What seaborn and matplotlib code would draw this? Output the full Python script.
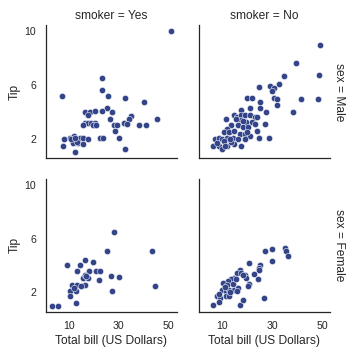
import matplotlib
matplotlib.use("Agg")
import matplotlib.pyplot as plt
import numpy as np
import pandas as pd
import seaborn as sns

# ---- data (total bill, tip) per facet --------------------------------------
male_yes_bill = [50.8, 23.2, 23.2, 7.2, 25.9, 32.7, 40.2, 25.2,
                 16.4, 18.4, 20.5, 23.2, 27.3, 17.8, 34.8, 34.1, 26.6, 45.2,
                 16.4, 17.8, 19.1, 20.5, 15.7, 19.8, 21.1, 32.0, 33.4, 28.0,
                 29.3, 38.2, 40.9, 28.7,
                 8.2, 10.3, 12.0, 13.0, 14.4, 15.7, 17.8, 11.6, 13.7, 15.7,
                 7.6, 12.3, 22.5, 23.9, 30.0, 32.7, 11.0, 13.3, 12.6]
male_yes_tip = [10.0, 6.5, 5.65, 5.15, 5.15, 5.0, 4.73, 4.26,
                4.0, 4.0, 4.05, 4.05, 4.0, 3.75, 3.67, 3.5, 3.44, 3.5,
                3.2, 3.2, 3.15, 3.15, 3.0, 3.0, 3.0, 3.2, 3.1, 3.0,
                3.0, 3.0, 3.0, 2.6,
                2.0, 2.05, 2.23, 2.0, 2.1, 2.1, 2.0, 1.72, 1.72, 1.6,
                1.47, 1.0, 2.05, 2.1, 2.05, 1.22, 2.0, 1.75, 2.1]

male_no_bill = [49.3, 39.6, 48.9, 34.7, 32.6, 24.6, 29.2, 30.8, 30.1,
                20.1, 21.8, 25.3, 30.8, 31.8, 41.5, 48.5, 32.0,
                17.6, 21.1, 25.3, 27.4, 38.5,
                14.9, 16.0, 17.6, 19.0, 21.1, 23.2, 23.9, 11.4,
                17.6, 19.7, 21.8, 23.2, 27.1,
                13.5, 16.3, 18.3, 20.4, 23.9,
                12.1, 10.7, 12.8, 14.9, 17.0, 19.0, 21.1,
                24.6, 28.8,
                7.2, 8.6, 10.0, 12.1, 14.2, 16.3, 19.0,
                6.5, 8.6, 10.0, 12.1, 14.9, 17.6,
                7.9, 10.7, 13.5,
                15.5, 18.5, 20.0, 13.0, 11.0]
male_no_tip = [9.0, 7.6, 6.75, 6.66, 6.08, 5.86, 5.9, 5.78, 5.57,
               5.0, 5.0, 4.76, 5.02, 4.94, 4.97, 4.97, 4.49,
               4.18, 4.33, 4.33, 4.0, 4.0,
               3.8, 3.62, 3.75, 3.75, 3.75, 3.62, 3.62, 3.44,
               3.37, 3.24, 3.24, 3.12, 3.12,
               3.0, 3.0, 2.86, 2.9, 2.6,
               2.74, 2.48, 2.48, 2.6, 2.36, 2.36, 2.23,
               2.05, 2.1,
               2.0, 2.05, 2.0, 2.05, 2.05, 2.0, 2.0,
               1.47, 1.47, 1.22, 1.47, 1.6, 1.47,
               1.72, 1.85, 1.8,
               3.5, 3.3, 2.5, 2.0, 1.5]

female_yes_bill = [28.1, 25.5, 43.2, 9.4, 14.4, 16.4, 19.8,
                   13.4, 18.0, 20.9, 22.5, 15.7, 17.5, 16.4,
                   26.9, 30.0, 22.2, 11.3, 13.4, 16.4, 44.4,
                   10.3, 13.0, 10.3, 27.3, 12.7, 3.1, 5.8,
                   17.0, 12.0, 14.8]
female_yes_tip = [6.5, 5.04, 5.04, 4.03, 4.06, 4.38, 4.26,
                  3.56, 3.56, 3.56, 3.56, 3.08, 3.08, 3.26,
                  3.2, 3.16, 2.95, 2.58, 2.58, 2.58, 2.5,
                  2.13, 2.13, 1.7, 2.08, 1.2, 1.0, 1.0,
                  3.2, 2.3, 2.5]

female_no_bill = [35.0, 35.7, 36.25, 27.1, 29.9, 29.9, 20.8,
                  25.3, 24.9, 24.6,
                  17.0, 16.0, 17.6, 19.0, 19.7, 20.8, 20.4,
                  22.9, 24.2,
                  14.9, 13.5, 12.5, 10.4, 11.8, 14.2,
                  10.0, 11.4, 12.8, 14.9, 16.3, 16.0,
                  7.9, 9.3, 11.4, 12.8, 8.6,
                  6.5, 8.6, 17.0, 18.3, 26.7,
                  15.5, 18.5, 13.0, 11.0]
female_no_tip = [5.29, 5.06, 4.71, 5.04, 5.21, 4.31, 4.16,
                 4.0, 3.78, 3.63,
                 3.63, 3.46, 3.46, 3.26, 3.08, 2.63, 2.5,
                 3.33, 3.0,
                 3.08, 3.0, 2.83, 2.71, 2.58, 2.63,
                 2.2, 2.08, 2.2, 2.2, 2.33, 2.13,
                 1.7, 1.58, 1.75, 1.75, 1.9,
                 1.08, 1.25, 1.08, 1.45, 1.58,
                 3.0, 3.3, 2.0, 2.4]

groups = [("Male", "Yes", male_yes_bill, male_yes_tip),
          ("Male", "No", male_no_bill, male_no_tip),
          ("Female", "Yes", female_yes_bill, female_yes_tip),
          ("Female", "No", female_no_bill, female_no_tip)]
tips = pd.concat([pd.DataFrame({"total_bill": b, "tip": t, "sex": s, "smoker": sm})
                  for s, sm, b, t in groups], ignore_index=True)

sns.set_theme(style="white", rc={"xtick.labelsize": 10.5, "ytick.labelsize": 10.5,
                                 "axes.labelsize": 12, "axes.titlesize": 12})
plt.rcParams["font.family"] = ["Liberation Sans", "DejaVu Sans"]

g = sns.FacetGrid(tips, row="sex", col="smoker", margin_titles=True,
                  row_order=["Male", "Female"], col_order=["Yes", "No"])
g.map(plt.scatter, "total_bill", "tip", color="#334488", edgecolor="white",
      lw=.5, s=40)
g.set_axis_labels("Total bill (US Dollars)", "Tip")
g.set(xticks=[10, 30, 50], yticks=[2, 6, 10])

fig = g.figure
fig.set_size_inches(356 / 72, 354 / 72)
fig.subplots_adjust(left=0.128, right=0.927, top=0.929, bottom=0.119,
                    wspace=0.17, hspace=0.152)
fig.savefig("out.png", dpi=72)
